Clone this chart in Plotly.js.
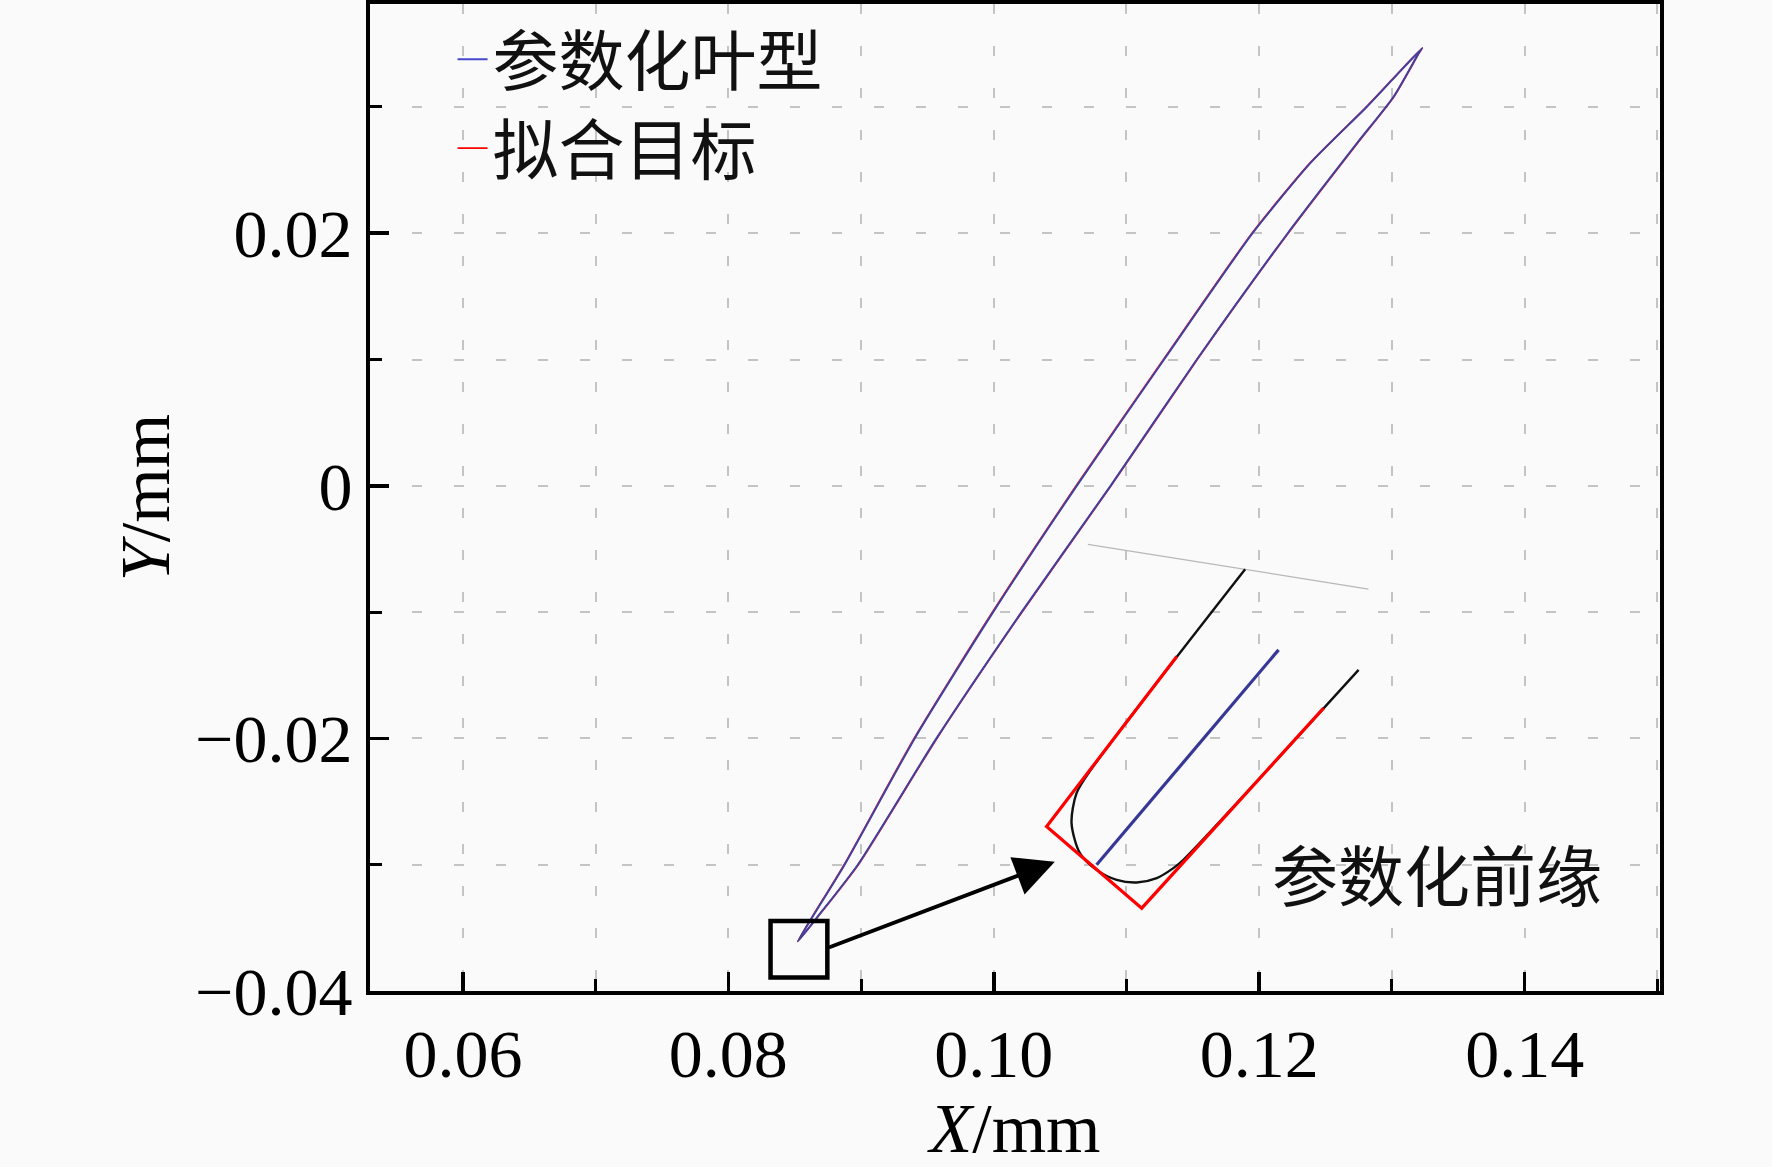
<!DOCTYPE html>
<html>
<head>
<meta charset="utf-8">
<script src="https://cdn.plot.ly/plotly-3.0.1.min.js"></script>
<style>html,body{margin:0;padding:0;background:#fafafa;}#chart{width:1772px;height:1167px;}</style>
</head>
<body>
<div id="chart"></div>
<script>
// Blade profile: parametric (参数化叶型) and fit target (拟合目标), closed loop LE -> TE -> LE
const paramX = [0.08523,0.08636,0.08876,0.09404,0.09995,0.10625,0.11283,0.11950,0.12385,0.12813,0.13014,0.13228,0.13202,0.13014,0.12737,0.12215,0.11530,0.10880,0.10209,0.09568,0.08976,0.08674,0.08523];
const paramY = [-0.03608,-0.03410,-0.03000,-0.02000,-0.01000,0.00000,0.01000,0.02000,0.02555,0.03003,0.03228,0.03466,0.03426,0.03083,0.02713,0.02000,0.01000,0.00000,-0.01000,-0.02000,-0.03000,-0.03410,-0.03608];
const targetX = [0.08523,0.08634,0.08873,0.09400,0.09991,0.10621,0.11279,0.11946,0.12382,0.12810,0.13012,0.13228,0.13204,0.13016,0.12740,0.12218,0.11533,0.10883,0.10212,0.09571,0.08979,0.08676,0.08523];
const targetY = paramY.slice();

// Leading-edge detail (inset sketch)
const insetCutX = [0.10709,0.12823];
const insetCutY = [-0.00463,-0.00818];
const insetEdgeX = [0.11894,0.10749,0.10624,0.10586,0.10649,0.10775,0.10926,0.11077,0.11228,0.11353,0.11429,0.12749];
const insetEdgeY = [-0.00660,-0.02223,-0.02433,-0.02671,-0.02908,-0.03041,-0.03120,-0.03141,-0.03106,-0.03027,-0.02961,-0.01457];
const insetTargetX = [0.11379,0.10398,0.11115,0.12485];
const insetTargetY = [-0.01352,-0.02698,-0.03344,-0.01760];
const insetCamberX = [0.12146,0.10775];
const insetCamberY = [-0.01299,-0.03001];

// Zoom box and arrow
const boxX = [0.08318,0.08746];
const boxY = [-0.03893,-0.03445];
const arrowFrom = [0.08746,-0.03660];
const arrowTo = [0.10460,-0.02976];

const legendNames = ['参数化叶型','拟合目标'];
const noteText = '参数化前缘';
const notePos = [0.13343,-0.03056];

const xTickVals = [0.06,0.08,0.10,0.12,0.14];
const yTickVals = [-0.04,-0.02,0,0.02];

const serif = 'Liberation Serif';
const cjk = 'Noto Sans CJK SC';
const blue = 'rgb(72,72,205)';
const red = '#ff0000';

const traces = [
  {x: targetX, y: targetY, mode:'lines', name: legendNames[1], line:{color:red, width:1.8, shape:'spline', smoothing:0.6}},
  {x: paramX, y: paramY, mode:'lines', name: legendNames[0], line:{color:blue, width:2.0, shape:'spline', smoothing:0.6}},
  {x: paramX, y: paramY, mode:'lines', showlegend:false, hoverinfo:'skip', line:{color:'rgba(60,60,60,0.5)', width:1.1, shape:'spline', smoothing:0.6}},
  {x: insetCutX, y: insetCutY, mode:'lines', showlegend:false, line:{color:'#b8b8b8', width:1.2}},
  {x: insetEdgeX, y: insetEdgeY, mode:'lines', showlegend:false, line:{color:'#111', width:2.4, shape:'spline', smoothing:0.8}},
  {x: insetTargetX, y: insetTargetY, mode:'lines', showlegend:false, line:{color:red, width:3.2}},
  {x: insetCamberX, y: insetCamberY, mode:'lines', showlegend:false, line:{color:'rgb(55,55,150)', width:3.2}}
];

const gridDash = '10px,32px';
const layout = {
  width:1772, height:1167,
  paper_bgcolor:'#fafafa', plot_bgcolor:'#fafafa',
  margin:{l:370, r:112, t:4, b:176},
  showlegend:true,
  legend:{x:0.064, y:0.994, xanchor:'left', yanchor:'top', traceorder:'reversed', bgcolor:'rgba(0,0,0,0)', font:{family:cjk, size:66, color:'#111'}, itemwidth:30},
  xaxis:{
    range:[0.0530,0.1502], tickvals:xTickVals, tickformat:'.2f',
    ticks:'inside', ticklen:19, tickwidth:3.5, tickcolor:'#000',
    showline:true, linecolor:'#000', linewidth:4, mirror:true,
    showgrid:true, gridcolor:'#c4c4c4', gridwidth:2, griddash:gridDash,
    zeroline:false,
    tickfont:{family:serif, size:68, color:'#000'},
    minor:{dtick:0.01, tick0:0, ticks:'inside', ticklen:12, tickwidth:3, tickcolor:'#000', showgrid:true, gridcolor:'#c4c4c4', gridwidth:2, griddash:gridDash},
    title:{text:'<i>X</i>/mm', font:{family:serif, size:70, color:'#000'}, standoff:16}
  },
  yaxis:{
    range:[-0.0400,0.03815], tickvals:yTickVals,
    ticks:'inside', ticklen:19, tickwidth:3.5, tickcolor:'#000',
    showline:true, linecolor:'#000', linewidth:4, mirror:true,
    showgrid:true, gridcolor:'#c4c4c4', gridwidth:2, griddash:gridDash,
    zeroline:false,
    tickfont:{family:serif, size:68, color:'#000'},
    minor:{dtick:0.01, tick0:0, ticks:'inside', ticklen:12, tickwidth:3, tickcolor:'#000', showgrid:true, gridcolor:'#c4c4c4', gridwidth:2, griddash:gridDash},
    title:{text:'<i>Y</i>/mm', font:{family:serif, size:70, color:'#000'}, standoff:4}
  },
  shapes:[
    {type:'rect', xref:'x', yref:'y', x0:boxX[0], x1:boxX[1], y0:boxY[0], y1:boxY[1], line:{color:'#000', width:4.5}}
  ],
  annotations:[
    {x:arrowTo[0], y:arrowTo[1], ax:arrowFrom[0], ay:arrowFrom[1], xref:'x', yref:'y', axref:'x', ayref:'y', text:'', showarrow:true, arrowhead:2, arrowsize:2.1, arrowwidth:3.8, arrowcolor:'#000'},
    {x:notePos[0], y:notePos[1], xref:'x', yref:'y', text:noteText, showarrow:false, font:{family:cjk, size:66, color:'#111'}}
  ]
};

Plotly.newPlot('chart', traces, layout, {displayModeBar:false, staticPlot:true});
</script>
</body>
</html>
